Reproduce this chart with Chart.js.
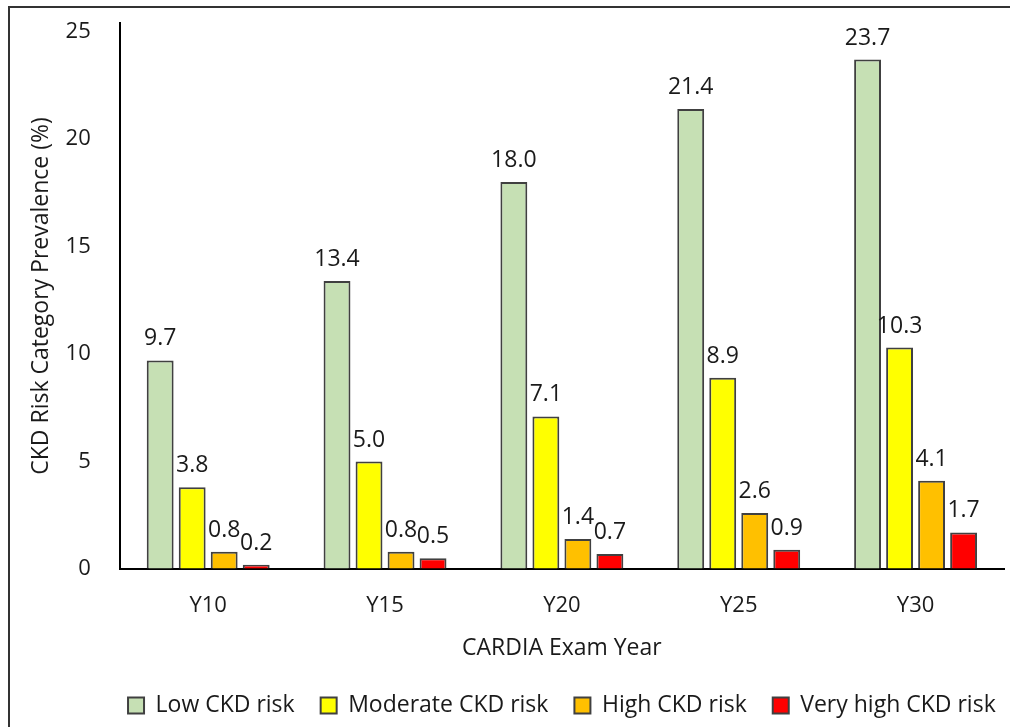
<!DOCTYPE html>
<html>
<head>
<meta charset="utf-8">
<script src="https://cdn.jsdelivr.net/npm/chart.js@4/dist/chart.umd.min.js"></script>
<style>
  html, body { margin: 0; padding: 0; background: #fff; overflow: hidden; }
  #wrap { position: relative; width: 1010px; height: 727px; }
  #frame { position: absolute; left: 8px; top: 6px; width: 1010px; height: 740px; border: 2px solid #333; box-sizing: border-box; }
  canvas { position: absolute; left: 0; top: 0; }
</style>
</head>
<body>
<div id="wrap">
  <div id="frame"></div>
  <canvas id="chart" width="1010" height="727"></canvas>
</div>
<script>
const examYears = ['Y10', 'Y15', 'Y20', 'Y25', 'Y30'];
const lowRisk = [9.7, 13.4, 18.0, 21.4, 23.7];
const moderateRisk = [3.8, 5.0, 7.1, 8.9, 10.3];
const highRisk = [0.8, 0.8, 1.4, 2.6, 4.1];
const veryHighRisk = [0.2, 0.5, 0.7, 0.9, 1.7];
const yTicks = [0, 5, 10, 15, 20, 25];

const FONT = '"Open Sans", "Noto Sans", sans-serif';
const TEXT = '#1a1a1a';
const EDGE = '#404040';

// value labels above each bar
const barValueLabels = {
  id: 'barValueLabels',
  afterDatasetsDraw(chart) {
    const ctx = chart.ctx;
    ctx.save();
    ctx.font = '23px ' + FONT;
    ctx.fillStyle = TEXT;
    ctx.textAlign = 'center';
    ctx.textBaseline = 'alphabetic';
    chart.data.datasets.forEach((ds, i) => {
      const meta = chart.getDatasetMeta(i);
      meta.data.forEach((bar, j) => {
        ctx.fillText(ds.data[j].toFixed(1), bar.x, bar.y - 15);
      });
    });
    ctx.restore();
  }
};

// center the legend row under the plot area instead of the whole canvas
const legendUnderPlot = {
  id: 'legendUnderPlot',
  afterLayout(chart) {
    const lg = chart.legend;
    if (lg) {
      const shift = (chart.chartArea.left + chart.chartArea.right) / 2 - (lg.left + lg.right) / 2;
      lg.left += shift;
      lg.right += shift;
    }
  }
};

function series(label, data, color) {
  return {
    label, data,
    backgroundColor: color,
    borderColor: EDGE,
    borderWidth: 2,
    borderSkipped: 'bottom',
    categoryPercentage: 0.724,
    barPercentage: 0.84
  };
}

new Chart(document.getElementById('chart'), {
  type: 'bar',
  data: {
    labels: examYears,
    datasets: [
      series('Low CKD risk', lowRisk, '#C6E0B4'),
      series('Moderate CKD risk', moderateRisk, '#FFFF00'),
      series('High CKD risk', highRisk, '#FFC000'),
      series('Very high CKD risk', veryHighRisk, '#FF0000')
    ]
  },
  options: {
    responsive: false,
    animation: false,
    devicePixelRatio: 1,
    layout: { padding: { left: 20, top: 23, right: 6, bottom: 0 } },
    plugins: {
      tooltip: { enabled: false },
      legend: {
        position: 'bottom',
        labels: {
          font: { family: FONT, size: 23 },
          color: TEXT,
          boxWidth: 16,
          boxHeight: 16,
          padding: 26,
          generateLabels(chart) {
            return chart.data.datasets.map((ds, i) => ({
              text: ds.label,
              fillStyle: ds.backgroundColor,
              strokeStyle: EDGE,
              lineWidth: 2,
              fontColor: TEXT,
              datasetIndex: i,
              hidden: false
            }));
          }
        }
      }
    },
    scales: {
      x: {
        grid: { display: true, drawOnChartArea: false, drawTicks: true, tickLength: 22, tickColor: 'rgba(0,0,0,0)' },
        border: { display: true, color: '#000', width: 2 },
        ticks: { font: { family: FONT, size: 22 }, color: TEXT, padding: 2 },
        title: {
          display: true,
          text: 'CARDIA Exam Year',
          font: { family: FONT, size: 23 },
          color: TEXT,
          padding: { top: 13, bottom: 6 }
        }
      },
      y: {
        min: 0,
        max: 25.4,
        grid: { display: true, drawOnChartArea: false, drawTicks: true, tickLength: 27, tickColor: 'rgba(0,0,0,0)' },
        border: { display: true, color: '#000', width: 2 },
        afterBuildTicks(axis) {
          axis.ticks = yTicks.map(v => ({ value: v }));
        },
        ticks: {
          font: { family: FONT, size: 22 },
          color: TEXT,
          padding: 2,
          callback: v => String(v)
        },
        title: {
          display: true,
          text: 'CKD Risk Category Prevalence (%)',
          font: { family: FONT, size: 23 },
          color: TEXT,
          padding: { top: 8, bottom: 8 }
        }
      }
    }
  },
  plugins: [barValueLabels, legendUnderPlot]
});
</script>
</body>
</html>
